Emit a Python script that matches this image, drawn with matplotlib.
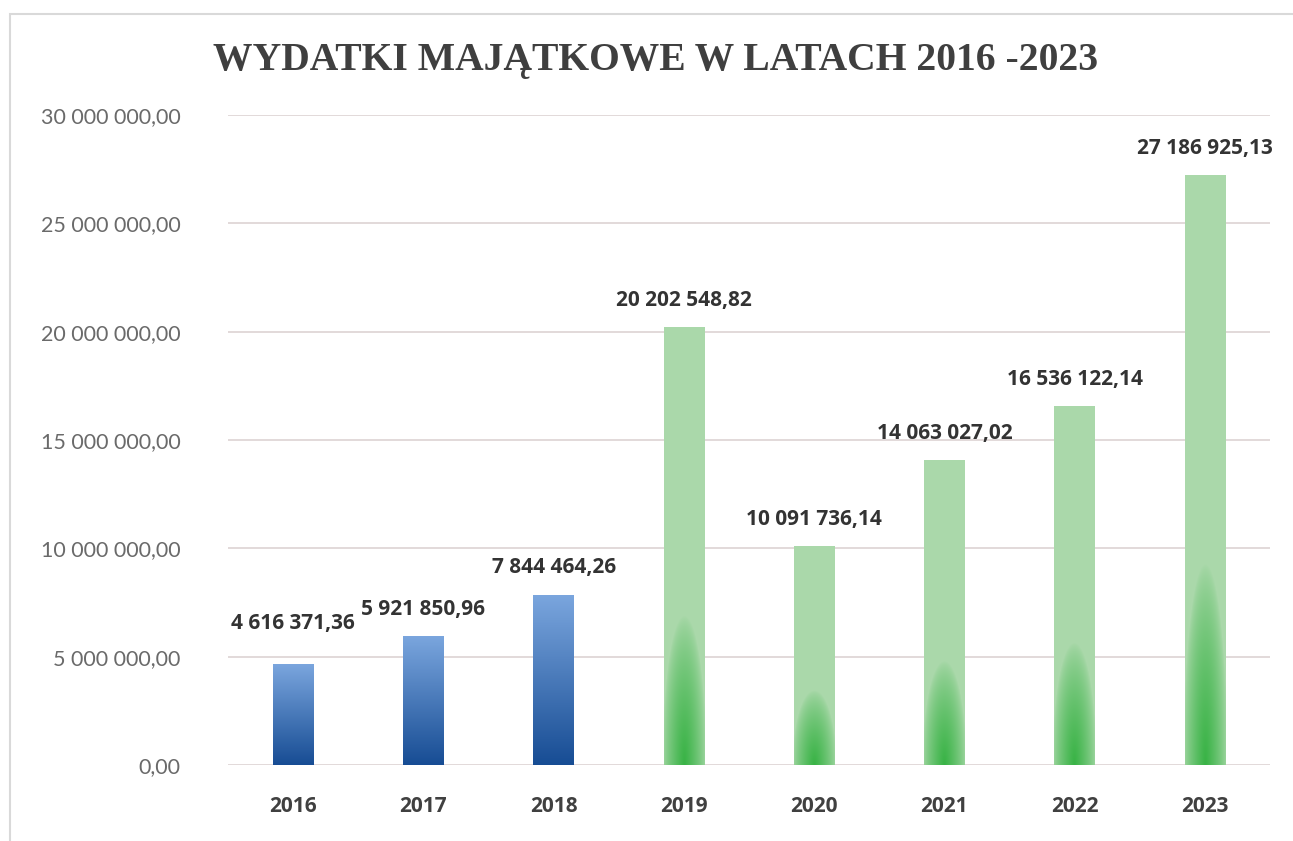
import numpy as np
import matplotlib
matplotlib.use("Agg")
from matplotlib import pyplot as plt
from matplotlib.patches import Rectangle

# data
years = ["2016", "2017", "2018", "2019", "2020", "2021", "2022", "2023"]
values = [4616371.36, 5921850.96, 7844464.26, 20202548.82,
          10091736.14, 14063027.02, 16536122.14, 27186925.13]
labels = ["4 616 371,36", "5 921 850,96", "7 844 464,26", "20 202 548,82",
          "10 091 736,14", "14 063 027,02", "16 536 122,14", "27 186 925,13"]
ticks = [0, 5e6, 10e6, 15e6, 20e6, 25e6, 30e6]
tick_labels = ["0,00", "5 000 000,00", "10 000 000,00", "15 000 000,00",
               "20 000 000,00", "25 000 000,00", "30 000 000,00"]
blue_years = 3  # first three bars are blue
# label offsets above bar top (points); 2016 pushed up like in the source
label_dy = [22, 12, 12, 12, 12, 12, 12, 12]

def blue_grad():
    t = np.linspace(0, 1, 200)[:, None]  # 0 = top, 1 = bottom
    top = np.array([0.48, 0.65, 0.87])
    bot = np.array([0.09, 0.30, 0.58])
    img = top + (bot - top) * t[..., None]
    return np.repeat(img, 20, axis=1)

def green_grad():
    ny, nx = 300, 40
    y = np.linspace(1, 0, ny)[:, None]  # 1 = top, 0 = bottom
    x = np.linspace(-1, 1, nx)[None, :]
    blob = 0.34  # share of bar height covered by darker glow
    r = np.sqrt((x / 1.1) ** 2 + (y / blob) ** 2)
    w = np.clip(1 - r, 0, 1) ** 0.7
    light = np.array([0.67, 0.85, 0.67])
    dark = np.array([0.22, 0.70, 0.27])
    img = light + (dark - light) * w[..., None]
    return img

fig = plt.figure(figsize=(12.93, 8.41), dpi=100)
fig.patches.append(Rectangle((10 / 1293, -0.01), 1.0, 1 - 14 / 841 + 0.01,
                             transform=fig.transFigure, fill=False,
                             edgecolor="#d9d9d9", linewidth=1.5))
ax = fig.add_axes([228 / 1293, 76 / 841, 1042 / 1293, 650 / 841])

x = np.arange(len(years))
bars = ax.bar(x, values, width=0.31, color="none", edgecolor="none", zorder=3)
for i, b in enumerate(bars):
    x0, w, h = b.get_x(), b.get_width(), b.get_height()
    img = blue_grad() if i < blue_years else green_grad()
    ax.imshow(img, extent=[x0, x0 + w, 0, h], aspect="auto", zorder=3,
              interpolation="bilinear")
    ax.annotate(labels[i], (x[i], h), xytext=(0, label_dy[i]), textcoords="offset points",
                ha="center", va="bottom", fontsize=15, fontweight="bold",
                color="#333333", family="Open Sans")

ax.set_xlim(-0.5, len(years) - 0.5)
ax.set_ylim(0, 30e6)
ax.set_yticks(ticks)
ax.set_yticklabels(tick_labels, fontsize=15.5, color="#6a6a6a", family="Lato")
ax.set_xticks(x)
ax.set_xticklabels(years, fontsize=15, fontweight="bold", color="#404040", family="Open Sans")
ax.tick_params(axis="both", length=0)
ax.tick_params(axis="y", pad=34)
ax.tick_params(axis="x", pad=22)
for s in ax.spines.values():
    s.set_visible(False)
ax.grid(axis="y", color="#ddd3d3", linewidth=1.2, zorder=0)
ax.set_axisbelow(True)

fig.text(0.507, 0.928, "WYDATKI MAJĄTKOWE W LATACH 2016 -2023", ha="center", va="center",
         fontsize=28.5, fontweight="bold", color="#3f3f3f", family="Liberation Serif")

fig.savefig("out.png", dpi=100)
